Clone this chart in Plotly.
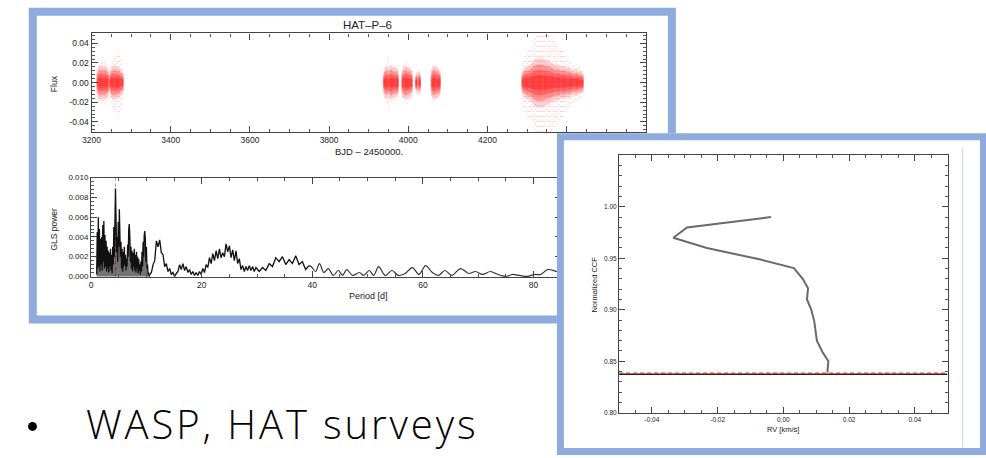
import plotly.graph_objects as go

W, H = 986, 458

# ---------------- DATA ----------------
# Light curve (HAT-P-6): observing nights, half-spread of dense core and of sparse outliers (flux)
LC_T = [3215, 3218, 3221, 3224, 3227, 3230, 3233, 3236, 3239, 3242, 3246, 3249, 3252, 3255, 3258, 3261,
        3264, 3267, 3270, 3273, 3276, 3279,
        3938, 3941, 3944, 3947, 3950, 3953, 3956, 3959, 3962, 3965, 3968, 3971, 3974,
        3985, 3988, 3991, 3994, 3997, 4000, 4003, 4006, 4009,
        4019, 4022, 4027, 4030,
        4059, 4062, 4065, 4068, 4071, 4074, 4077, 4080,
        4288, 4291, 4294, 4297, 4300, 4303, 4306, 4309, 4312, 4315, 4318, 4321, 4324, 4327, 4330, 4333,
        4336, 4339, 4342, 4345, 4348, 4351, 4354, 4357, 4360, 4363, 4366, 4369, 4372, 4375, 4378, 4381,
        4384, 4387, 4390, 4393, 4396, 4399, 4402, 4405, 4408, 4411, 4414, 4417, 4420, 4423, 4426, 4429,
        4432, 4435, 4438, 4441]
LC_CORE = [0.010, 0.012, 0.013, 0.012, 0.013, 0.012, 0.013, 0.012, 0.011, 0.010, 0.007, 0.011, 0.012, 0.013,
           0.012, 0.013, 0.012, 0.011, 0.012, 0.010, 0.009, 0.008,
           0.008, 0.011, 0.012, 0.012, 0.010, 0.012, 0.013, 0.012, 0.011, 0.012, 0.010, 0.011, 0.009,
           0.010, 0.012, 0.012, 0.013, 0.012, 0.011, 0.012, 0.010, 0.009,
           0.006, 0.008, 0.009, 0.007,
           0.010, 0.012, 0.013, 0.012, 0.011, 0.012, 0.010, 0.009,
           0.008, 0.010, 0.011, 0.012, 0.012, 0.013, 0.013, 0.014, 0.015, 0.016, 0.017, 0.018, 0.018, 0.019,
           0.018, 0.018, 0.019, 0.018, 0.018, 0.017, 0.017, 0.016, 0.017, 0.016, 0.015, 0.015, 0.014, 0.014,
           0.013, 0.014, 0.013, 0.013, 0.012, 0.012, 0.013, 0.012, 0.012, 0.011, 0.011, 0.012, 0.011, 0.010,
           0.010, 0.009, 0.010, 0.009, 0.010, 0.009, 0.008, 0.009, 0.008, 0.007]
LC_OUTER = [0.016, 0.018, 0.020, 0.022, 0.020, 0.018, 0.022, 0.025, 0.020, 0.018, 0.015, 0.020, 0.022, 0.025,
            0.028, 0.030, 0.032, 0.035, 0.030, 0.028, 0.022, 0.018,
            0.014, 0.016, 0.020, 0.022, 0.030, 0.020, 0.018, 0.020, 0.017, 0.016, 0.018, 0.015, 0.014,
            0.015, 0.020, 0.018, 0.016, 0.022, 0.018, 0.016, 0.015, 0.014,
            0.010, 0.012, 0.012, 0.010,
            0.014, 0.016, 0.018, 0.020, 0.016, 0.015, 0.014, 0.012,
            0.022, 0.025, 0.030, 0.030, 0.032, 0.035, 0.035, 0.035, 0.038, 0.040, 0.045, 0.048, 0.050, 0.050,
            0.050, 0.050, 0.050, 0.050, 0.050, 0.050, 0.048, 0.050, 0.050, 0.050, 0.050, 0.048, 0.045, 0.045,
            0.040, 0.042, 0.040, 0.038, 0.035, 0.035, 0.035, 0.030, 0.030, 0.028, 0.025, 0.025, 0.022, 0.022,
            0.020, 0.020, 0.018, 0.018, 0.018, 0.016, 0.016, 0.015, 0.015, 0.014]

# GLS periodogram: dense short-period part, jagged mid part, smooth long-period part
PER_A = [1.0, 1.1, 1.2, 1.3, 1.4, 1.5, 1.6, 1.7, 1.8, 1.9, 2.0, 2.1, 2.2, 2.3, 2.4, 2.5, 2.6, 2.7, 2.8, 2.9,
         3.0, 3.1, 3.2, 3.3, 3.4, 3.5, 3.6, 3.7, 3.8, 3.9, 4.0, 4.1, 4.2, 4.3, 4.4, 4.5, 4.6, 4.7, 4.8, 4.9,
         5.0, 5.1, 5.2, 5.3, 5.4, 5.5, 5.6, 5.7, 5.8, 5.9, 6.0, 6.1, 6.2, 6.3, 6.4, 6.5, 6.6, 6.7, 6.8, 6.9,
         7.0, 7.1, 7.2, 7.3, 7.4, 7.5, 7.6, 7.7, 7.8, 7.9, 8.0, 8.1, 8.2, 8.3, 8.4, 8.5, 8.6, 8.7, 8.8, 8.9,
         9.0, 9.1, 9.2, 9.3, 9.4, 9.5, 9.6, 9.7, 9.8, 9.9, 10.0, 10.1, 10.2, 10.3, 10.4, 10.5, 10.6]
POW_A = [0.0002, 0.0045, 0.0008, 0.0060, 0.0010, 0.0048, 0.0005, 0.0038, 0.0012, 0.0040,
         0.0006, 0.0052, 0.0015, 0.0056, 0.0008, 0.0042, 0.0010, 0.0036, 0.0005, 0.0030,
         0.0008, 0.0026, 0.0004, 0.0024, 0.0010, 0.0028, 0.0006, 0.0022, 0.0003, 0.0030,
         0.0012, 0.0050, 0.0020, 0.0078, 0.0089, 0.0060, 0.0025, 0.0040, 0.0015, 0.0055,
         0.0030, 0.0068, 0.0050, 0.0020, 0.0035, 0.0008, 0.0028, 0.0005, 0.0025, 0.0010,
         0.0030, 0.0012, 0.0022, 0.0006, 0.0018, 0.0010, 0.0032, 0.0020, 0.0048, 0.0053,
         0.0040, 0.0015, 0.0030, 0.0008, 0.0026, 0.0005, 0.0024, 0.0010, 0.0028, 0.0006,
         0.0022, 0.0004, 0.0025, 0.0008, 0.0020, 0.0003, 0.0018, 0.0006, 0.0012, 0.0002,
         0.0015, 0.0005, 0.0025, 0.0010, 0.0035, 0.0020, 0.0042, 0.0046, 0.0038, 0.0015,
         0.0030, 0.0008, 0.0012, 0.0002, 0.0004, 0.0000, 0.0002]
PER_B = [10.9, 11.2, 11.5, 11.8, 12.1, 12.4, 12.7, 13.0, 13.3, 13.6, 13.9, 14.2, 14.5, 14.8, 15.1, 15.4,
         15.7, 16.0, 16.3, 16.6, 16.9, 17.2, 17.5, 17.8, 18.1, 18.4, 18.7, 19.0, 19.3, 19.6, 19.9, 20.2,
         20.5, 20.8, 21.1, 21.4, 21.7, 22.0, 22.3, 22.6, 22.9, 23.2, 23.5, 23.8, 24.1, 24.4, 24.7, 25.0,
         25.3, 25.6, 25.9, 26.2, 26.5, 26.8, 27.1, 27.4, 27.7, 28.0, 28.3, 28.6, 28.9, 29.2, 29.5, 29.8,
         30.4, 31.0, 31.6, 32.2, 32.8, 33.4, 34.0, 34.6, 35.2, 35.8, 36.4, 37.0, 37.6, 38.2, 38.8, 39.4]
POW_B = [0.0004, 0.0012, 0.0016, 0.0036, 0.0030, 0.0037, 0.0024, 0.0022, 0.0010, 0.0013, 0.0005, 0.0008,
         0.0002, 0.0004, 0.0000, 0.0003, 0.0005, 0.0012, 0.0007, 0.0013, 0.0006, 0.0010, 0.0004, 0.0007,
         0.0002, 0.0005, 0.0001, 0.0004, 0.0001, 0.0005, 0.0002, 0.0008, 0.0004, 0.0012, 0.0009, 0.0019,
         0.0013, 0.0023, 0.0016, 0.0026, 0.0018, 0.0028, 0.0019, 0.0024, 0.0020, 0.0033, 0.0025, 0.0031,
         0.0019, 0.0027, 0.0016, 0.0026, 0.0013, 0.0018, 0.0007, 0.0011, 0.0005, 0.0010, 0.0006, 0.0011,
         0.0006, 0.0010, 0.0005, 0.0009,
         0.0005, 0.0009, 0.0006, 0.0013, 0.0010, 0.0019, 0.0015, 0.0020, 0.0012, 0.0017, 0.0013, 0.0021,
         0.0012, 0.0015, 0.0007, 0.0011]
PER_C = [39.8, 40.6, 41.3, 42.1, 42.9, 43.8, 44.7, 45.5, 46.2, 47.3, 48.5, 49.3, 50.3, 51.1, 52.0, 53.2,
         54.4, 55.6, 56.8, 58.1, 59.3, 60.5, 61.7, 62.8, 64.0, 65.2, 66.8, 68.3, 69.5, 70.8, 72.2, 73.6,
         75.0, 76.2, 77.5, 78.9, 80.2, 81.3, 82.6, 84.2, 86.0]
POW_C = [0.0010, 0.0005, 0.0013, 0.0004, 0.0008, 0.0001, 0.0006, 0.0001, 0.0007, 0.0001, 0.0004, 0.0001,
         0.0006, 0.0001, 0.0010, 0.0001, 0.0006, 0.0001, 0.0003, 0.0009, 0.0002, 0.0011, 0.0004, 0.0001,
         0.0006, 0.0001, 0.0008, 0.0003, 0.0005, 0.0002, 0.0005, 0.0002, 0.0000, 0.0002, 0.0001, 0.0000,
         0.0002, 0.0002, 0.0007, 0.0005, 0.0003]
PERIOD_MARK = 4.4

# CCF bisector
CCF_RV = [-0.0038, -0.0293, -0.0335, -0.0233, -0.0073, 0.0032, 0.0059, 0.0075, 0.0072, 0.0085, 0.0094,
          0.0097, 0.0102, 0.0119, 0.0137, 0.0135, 0.0134]
CCF_Y = [0.990, 0.980, 0.970, 0.960, 0.949, 0.9405, 0.930, 0.921, 0.910, 0.900, 0.889, 0.880, 0.870,
         0.859, 0.850, 0.843, 0.839]
CCF_LEVEL = 0.838

LC_XTICKS = [3200, 3400, 3600, 3800, 4000, 4200, 4400, 4600]
LC_XTEXT = ["3200", "3400", "3600", "3800", "4000", "4200", "", ""]
LC_YTICKS = [-0.04, -0.02, 0.0, 0.02, 0.04]
LC_YTEXT = ["-0.04", "-0.02", "0.00", "0.02", "0.04"]
PG_XTICKS = [0, 20, 40, 60, 80]
PG_YTICKS = [0.0, 0.002, 0.004, 0.006, 0.008, 0.010]
PG_YTEXT = ["0.000", "0.002", "0.004", "0.006", "0.008", "0.010"]
CCF_XTICKS = [-0.04, -0.02, 0.0, 0.02, 0.04]
CCF_XTEXT = ["-0.04", "-0.02", "0.00", "0.02", "0.04"]
CCF_YTICKS = [0.80, 0.85, 0.90, 0.95, 1.00]
CCF_YTEXT = ["0.80", "0.85", "0.90", "0.95", "1.00"]

# ---------------- helpers ----------------
def fx(px):
    return px / W


def fy(py):
    return 1 - py / H


def vsegs(ts, hw, scale=1.0):
    xs, ys = [], []
    for t, h in zip(ts, hw):
        xs += [t, t, None]
        ys += [-h * scale, h * scale, None]
    return xs, ys


fig = go.Figure()

# light curve (streaky red cloud, denser towards zero)
for hw, sc, col, wd, dash in [(LC_OUTER, 1.0, "rgba(255,0,0,0.22)", 1.0, "1px,4px"),
                              (LC_CORE, 1.35, "rgba(255,0,0,0.14)", 1.6, "solid"),
                              (LC_CORE, 1.0, "rgba(255,0,0,0.20)", 1.8, "solid"),
                              (LC_CORE, 0.7, "rgba(255,0,0,0.22)", 1.8, "solid"),
                              (LC_CORE, 0.4, "rgba(255,0,0,0.25)", 1.8, "solid")]:
    xs, ys = vsegs(LC_T, hw, sc)
    fig.add_trace(go.Scatter(x=xs, y=ys, mode="lines", line=dict(color=col, width=wd, dash=dash),
                             xaxis="x", yaxis="y", hoverinfo="skip", showlegend=False))

# periodogram
fig.add_trace(go.Scatter(x=[PERIOD_MARK, PERIOD_MARK], y=[0, 0.0100], mode="lines",
                         line=dict(color="rgba(255,60,60,0.7)", width=1, dash="dot"),
                         xaxis="x2", yaxis="y2", showlegend=False))
fig.add_trace(go.Scatter(x=PER_A, y=POW_A, mode="lines", fill="tozeroy",
                         fillcolor="rgba(0,0,0,0.55)",
                         line=dict(color="#111", width=1.3), xaxis="x2", yaxis="y2", showlegend=False))
fig.add_trace(go.Scatter(x=PER_A[-1:] + PER_B, y=POW_A[-1:] + POW_B, mode="lines",
                         line=dict(color="#111", width=1.3), xaxis="x2", yaxis="y2", showlegend=False))
fig.add_trace(go.Scatter(x=PER_B[-1:] + PER_C, y=POW_B[-1:] + POW_C, mode="lines",
                         line=dict(color="#333", width=1.2, shape="spline", smoothing=0.9),
                         xaxis="x2", yaxis="y2", showlegend=False))

# CCF
fig.add_trace(go.Scatter(x=[-0.05, 0.05], y=[CCF_LEVEL - 0.0006, CCF_LEVEL - 0.0006], mode="lines",
                         line=dict(color="#222", width=1.4), xaxis="x3", yaxis="y3", showlegend=False))
fig.add_trace(go.Scatter(x=[-0.05, 0.05], y=[CCF_LEVEL + 0.0004, CCF_LEVEL + 0.0004], mode="lines",
                         line=dict(color="rgba(230,40,40,0.9)", width=1.2, dash="4px,3px"),
                         xaxis="x3", yaxis="y3", showlegend=False))
fig.add_trace(go.Scatter(x=CCF_RV, y=CCF_Y, mode="lines", line=dict(color="#6a6a6a", width=2),
                         xaxis="x3", yaxis="y3", showlegend=False))

TF = "Liberation Sans, Arial, sans-serif"


def ax(domain, anchor, rng, tickvals, ticktext, minor_dtick, minor_tick0, fs, major_len=6, minor_len=3):
    return dict(domain=domain, anchor=anchor, range=rng, tickmode="array", tickvals=tickvals,
                ticktext=ticktext, ticks="inside", ticklen=major_len, tickwidth=1, tickcolor="#444",
                minor=dict(ticks="inside", ticklen=minor_len, tickwidth=1, tickcolor="#555",
                           tickmode="linear", tick0=minor_tick0, dtick=minor_dtick),
                showline=True, linecolor="#444", linewidth=1.2, mirror="allticks",
                showgrid=False, zeroline=False,
                tickfont=dict(family=TF, size=fs, color="#222"))


layout = dict(
    width=W, height=H, autosize=False, margin=dict(l=0, r=0, t=0, b=0),
    paper_bgcolor="white", plot_bgcolor="rgba(0,0,0,0)", showlegend=False,
    xaxis=ax([fx(83.3), fx(642.7)], "y", [3200, 4600], LC_XTICKS, LC_XTEXT, 50, 3200, 8.5),
    yaxis=ax([fy(130), fy(30)], "x", [-0.05, 0.05], LC_YTICKS, LC_YTEXT, 0.004, 0, 8.5),
    xaxis2=ax([fx(82.9), fx(557)], "y2", [0, (557 - 82.9) / 5.58], PG_XTICKS,
              [str(v) for v in PG_XTICKS], 5, 0, 8.5),
    yaxis2=ax([fy(278), fy(176.7)], "x2", [-0.00007, 0.0100], PG_YTICKS, PG_YTEXT, 0.0004, 0, 8),
    xaxis3=ax([fx(615.7), fx(947.3)], "y3", [-0.05, 0.05], CCF_XTICKS, CCF_XTEXT, 0.005, 0, 6.5),
    yaxis3=ax([fy(416), fy(154)], "x3", [0.80, 1.05], CCF_YTICKS, CCF_YTEXT, 0.01, 0.8, 6.5),
)
fig.update_layout(**layout)

BLUE = "#8FAADC"
shapes = [
    dict(type="rect", xref="paper", yref="paper", x0=fx(24), x1=fx(669), y0=fy(321), y1=fy(8),
         line=dict(color=BLUE, width=8), fillcolor="rgba(0,0,0,0)", layer="below"),
    dict(type="rect", xref="paper", yref="paper", x0=fx(553), x1=fx(986), y0=fy(458), y1=fy(131.5),
         line=dict(width=0), fillcolor="white", layer="below"),
    dict(type="line", xref="paper", yref="paper", x0=fx(962.5), x1=fx(962.5), y0=fy(452), y1=fy(146),
         line=dict(color="#c6d3ee", width=1), layer="below"),
    dict(type="rect", xref="paper", yref="paper", x0=fx(556.5), x1=fx(983.5), y0=fy(455.5), y1=fy(135),
         line=dict(color=BLUE, width=7), fillcolor="rgba(0,0,0,0)", layer="above"),
    # bullet mark
    dict(type="circle", xref="paper", yref="paper", x0=fx(19.2), x1=fx(28.2), y0=fy(434.5), y1=fy(425.5),
         line=dict(width=0), fillcolor="#000", layer="above"),
]
fig.update_layout(shapes=shapes)


def ann(text, px, py, size, angle=0, xanchor="center", yanchor="middle", family=TF, color="#222",
        weight=None):
    f = dict(family=family, size=size, color=color)
    if weight:
        f["weight"] = weight
    return dict(text=text, x=fx(px), y=fy(py), xref="paper", yref="paper", showarrow=False,
                xanchor=xanchor, yanchor=yanchor, textangle=angle, font=f)


annotations = [
    ann("HAT\u2013P\u20136", 362, 21.5, 11.5),
    ann("BJD \u2013 2450000.", 363, 150, 9.5),
    ann("Flux", 45, 81, 8.5, angle=-90),
    ann("GLS power", 45, 229, 8.5, angle=-90),
    ann("Period [d]", 363, 297, 9),
    ann("Normalized CCF", 590, 286, 7.5, angle=-90),
    ann("RV [km/s]", 781, 433, 7.5),
    ann('<span style="letter-spacing:2.9px">WASP, HAT surveys</span>', 76, 427, 40, xanchor="left",
        family="Open Sans, sans-serif", color="#000", weight=300),
]
fig.update_layout(annotations=annotations)

fig.write_html("out.html", post_script="document.body.style.margin='0';")
